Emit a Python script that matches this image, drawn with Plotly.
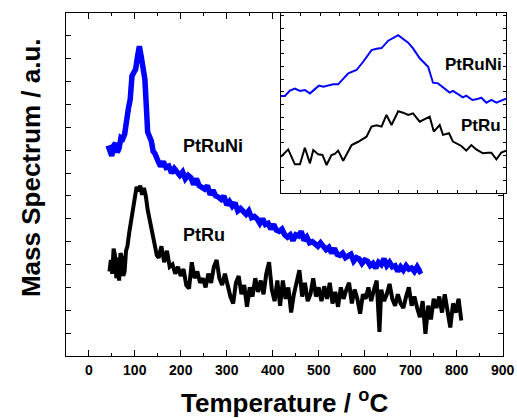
import plotly.graph_objects as go

# ---------------- main panel data (Temperature in °C, signal in a.u.) ----------------
ptruni_T = [42, 46, 50, 54, 58, 62, 66, 70, 74, 78, 82, 86, 90, 94, 98, 102, 106, 110, 114, 118,
            122, 126, 128, 132, 136, 140, 144,
            150, 156, 162, 168, 174, 180, 186, 192, 198, 204, 210, 216, 222, 228, 234, 240, 246, 252,
            258, 264, 270, 276, 282, 288, 294, 300, 306, 312, 318, 324, 330, 336, 342, 348, 354, 360,
            366, 372, 378, 384, 390, 396, 402, 408, 414, 420, 426, 432, 438, 444, 450, 456, 462, 468,
            474, 480, 486, 492, 498, 504, 510, 516, 522, 528, 534, 540, 546, 552, 558, 564, 570, 576,
            582, 588, 594, 600, 606, 612, 618, 624, 630, 636, 642, 648, 654, 660, 666, 672, 678, 684,
            690, 696, 702, 708, 714, 720, 724]
ptruni_y = [9.20, 8.85, 8.75, 9.20, 9.30, 8.90, 9.10, 9.55, 9.50, 9.70, 10.50, 10.80, 11.20, 12.25,
            12.40, 12.55, 13.10, 13.55, 13.10, 12.70, 12.10, 10.60, 9.80, 9.60, 9.40, 8.95, 8.85,
            8.55, 8.30, 8.50, 8.25, 8.30, 8.00, 8.20, 8.05, 7.90, 8.05, 7.75, 7.90, 7.80, 7.50, 7.75,
            7.45, 7.40, 7.30, 7.45, 7.05, 7.25, 7.00, 6.95, 6.85, 7.00, 6.60, 6.75, 6.55, 6.70, 6.35,
            6.45, 6.30, 6.20, 6.35, 6.05, 6.10, 6.00, 5.80, 6.00, 5.75, 5.80, 5.55, 5.75, 5.50, 5.45,
            5.55, 5.30, 5.20, 5.30, 5.05, 5.30, 5.25, 5.45, 5.05, 5.20, 4.95, 5.00, 4.90, 4.80, 4.95,
            4.75, 4.65, 4.75, 4.50, 4.70, 4.45, 4.40, 4.50, 4.30, 4.35, 4.45, 4.15, 4.30, 4.25, 4.05,
            4.20, 4.15, 3.95, 4.05, 3.85, 4.10, 4.00, 4.25, 3.95, 4.10, 3.90, 3.95, 3.70, 3.90, 3.75,
            3.95, 3.80, 3.85, 3.70, 3.90, 3.70, 3.75]

ptru_T = [45, 48, 51, 54, 57, 60, 63, 66, 69, 72, 75, 78, 81, 84, 88, 92, 96, 100, 104, 108, 112,
          116, 120, 124, 128, 132, 136, 140, 144, 148,
          152, 158, 164, 170, 176, 182, 188, 194, 200, 206, 212, 218, 224, 230, 236, 242, 248, 254,
          260, 266, 272, 278, 284, 290, 296, 302, 308, 314, 320, 326, 332, 338, 344, 350, 356, 362,
          368, 374, 380, 386, 392, 398, 404, 410, 416, 422, 428, 434, 440, 446, 452, 458, 464, 470,
          476, 482, 488, 494, 500, 506, 512, 518, 524, 530, 536, 542, 548, 554, 560, 566, 572, 578,
          584, 590, 596, 602, 608, 614, 620, 626, 632, 636, 642, 648, 654, 660, 666, 672, 678, 684,
          690, 696, 702, 708, 714, 720, 726, 732, 738, 744, 750, 756, 762, 768, 774, 780, 786, 792,
          798, 804, 810]
ptru_y = [3.70, 4.20, 3.60, 4.70, 4.40, 3.40, 4.30, 3.30, 4.50, 4.30, 3.50, 3.70, 4.60, 4.80, 5.40,
          6.00, 6.40, 6.90, 7.40, 7.20, 7.45, 7.05, 7.35, 7.00, 6.40, 6.00, 5.50, 5.20, 4.70, 4.40,
          4.30, 4.80, 4.10, 4.60, 3.90, 4.00, 3.60, 3.90, 3.50, 3.80, 3.10, 2.95, 4.10, 3.40, 3.70,
          3.20, 3.40, 3.00, 3.60, 3.20, 3.90, 4.20, 3.40, 3.10, 3.60, 3.10, 2.60, 2.30, 3.20, 3.50,
          2.70, 3.10, 2.15, 3.00, 2.60, 3.40, 2.80, 3.30, 2.70, 3.60, 4.10, 2.90, 2.40, 3.30, 2.20,
          3.30, 2.50, 3.00, 1.90, 2.70, 3.20, 3.75, 2.60, 3.20, 2.40, 2.70, 3.40, 2.60, 3.00, 2.40,
          3.05, 2.50, 3.20, 2.30, 2.80, 2.15, 3.00, 2.50, 2.90, 3.20, 2.30, 2.90, 2.50, 1.85, 2.70,
          2.50, 3.00, 2.40, 2.90, 3.30, 1.05, 2.90, 2.40, 2.70, 3.15, 2.50, 2.20, 2.70, 2.30, 2.10,
          2.60, 3.00, 2.20, 2.60, 2.10, 1.70, 2.40, 0.97, 2.20, 1.60, 2.50, 2.10, 2.60, 1.90, 2.70,
          2.00, 1.25, 2.30, 1.90, 2.50, 1.55]

# ---------------- inset data (arbitrary units) ----------------
inset_ptruni_x = [0.0, 0.20, 0.46, 0.71, 0.97, 1.22, 1.48, 1.73, 1.94, 2.16, 2.41, 2.67, 2.92, 3.18,
                  3.44, 3.86, 4.20, 4.63, 4.88, 5.14, 5.48, 5.99, 6.50, 6.75, 7.09, 7.52, 7.77, 8.03,
                  8.37, 8.62, 8.79, 9.05, 9.30, 9.47, 9.78, 9.98, 10.24, 10.50, 10.75, 11.01, 11.35,
                  11.50]
inset_ptruni_y = [7.67, 7.67, 8.09, 8.24, 8.06, 8.14, 7.87, 8.19, 8.48, 8.40, 8.50, 8.58, 8.58,
                  8.98, 9.45, 9.71, 10.36, 11.28, 11.39, 11.44, 12.02, 12.46, 11.86, 11.41, 10.63,
                  9.97, 8.71, 8.66, 8.27, 7.93, 8.06, 7.80, 7.56, 7.69, 7.35, 7.40, 7.53, 7.14, 7.35,
                  7.14, 7.40, 7.45]
inset_ptru_x = [0.0, 0.37, 0.71, 0.97, 1.22, 1.48, 1.65, 1.90, 2.12, 2.33, 2.58, 2.75, 2.92, 3.18,
                3.61, 3.95, 4.37, 4.63, 4.88, 5.14, 5.39, 5.65, 5.99, 6.24, 6.50, 6.75, 7.09, 7.43,
                7.60, 7.81, 8.11, 8.28, 8.59, 8.79, 9.05, 9.22, 9.47, 9.73, 9.98, 10.32, 10.58,
                10.75, 11.01, 11.26, 11.50]
inset_ptru_y = [2.88, 3.46, 2.28, 2.28, 3.59, 2.36, 3.41, 3.07, 3.02, 2.23, 3.02, 3.10, 3.36, 2.57,
                3.80, 4.06, 4.46, 5.25, 5.36, 5.25, 6.17, 5.38, 6.46, 6.35, 6.17, 6.30, 5.64, 5.91,
                6.04, 4.86, 5.38, 4.60, 4.73, 4.07, 3.88, 3.73, 3.36, 3.80, 3.46, 3.15, 3.20, 3.20,
                2.67, 3.20, 3.36]

FONT = "Liberation Sans, Arial, sans-serif"

fig = go.Figure()
fig.add_trace(go.Scatter(x=ptru_T, y=ptru_y, mode="lines",
                         line=dict(color="black", width=4), showlegend=False,
                         xaxis="x", yaxis="y"))
fig.add_trace(go.Scatter(x=ptruni_T, y=ptruni_y, mode="lines",
                         line=dict(color="#0000ff", width=5.5), showlegend=False,
                         xaxis="x", yaxis="y"))
fig.add_trace(go.Scatter(x=inset_ptruni_x, y=inset_ptruni_y, mode="lines",
                         line=dict(color="#0000ff", width=2), showlegend=False,
                         xaxis="x2", yaxis="y2"))
fig.add_trace(go.Scatter(x=inset_ptru_x, y=inset_ptru_y, mode="lines",
                         line=dict(color="black", width=2), showlegend=False,
                         xaxis="x2", yaxis="y2"))

axis_common = dict(showline=True, linecolor="black", linewidth=1, mirror="allticks",
                   showgrid=False, zeroline=False, ticks="inside", tickcolor="black",
                   automargin=False)

fig.update_layout(
    width=517, height=418,
    margin=dict(l=66, r=11, t=13, b=62, autoexpand=False),
    paper_bgcolor="white", plot_bgcolor="white",
    xaxis=dict(domain=[0, 0.9925], range=[-49.5, 900], tick0=0, dtick=100,
               ticklen=6, tickwidth=1,
               minor=dict(ticks="inside", dtick=50, ticklen=3, tickcolor="black"),
               tickfont=dict(family=FONT, size=14, color="black", weight="bold"),
               ticklabelstandoff=1, **axis_common),
    yaxis=dict(domain=[0, 1], range=[0, 15], tick0=0, dtick=1, ticklen=5, tickwidth=1,
               showticklabels=False, **axis_common),
    xaxis2=dict(domain=[0.4886, 1], range=[0, 11.5], tick0=0, dtick=1, ticklen=3,
                showticklabels=False, anchor="y2", **axis_common),
    yaxis2=dict(domain=[0.4743, 1], range=[0, 14.2], tick0=0, dtick=1, ticklen=3,
                showticklabels=False, anchor="x2", **axis_common),
    annotations=[
        dict(text="<b>Temperature / <sup>o</sup>C</b>", xref="paper", yref="paper",
             x=0.4955, y=-0.134, xanchor="center", yanchor="middle", showarrow=False,
             font=dict(family=FONT, size=26, color="black")),
        dict(text="<b>Mass Spectrum / a.u.</b>", xref="paper", yref="paper",
             x=-0.0795, y=0.548, xanchor="center", yanchor="middle", textangle=-90,
             showarrow=False, font=dict(family=FONT, size=26, color="black")),
        dict(text="<b>PtRuNi</b>", xref="x", yref="y", x=270, y=(355.5 - 145) / 22.87,
             xanchor="center", yanchor="middle", showarrow=False,
             font=dict(family=FONT, size=18, color="black")),
        dict(text="<b>PtRu</b>", xref="x", yref="y", x=250, y=(355.5 - 234.5) / 22.87,
             xanchor="center", yanchor="middle", showarrow=False,
             font=dict(family=FONT, size=18, color="black")),
        dict(text="<b>PtRuNi</b>", xref="x2", yref="y2", x=9.84, y=(193.3 - 64) / 12.7,
             xanchor="center", yanchor="middle", showarrow=False,
             font=dict(family=FONT, size=17, color="black")),
        dict(text="<b>PtRu</b>", xref="x2", yref="y2", x=10.2, y=(193.3 - 125) / 12.7,
             xanchor="center", yanchor="middle", showarrow=False,
             font=dict(family=FONT, size=17, color="black")),
    ],
)

fig.write_html("out.html", config={"displayModeBar": False},
               post_script="document.body.style.margin='0';document.body.style.overflow='hidden';")
